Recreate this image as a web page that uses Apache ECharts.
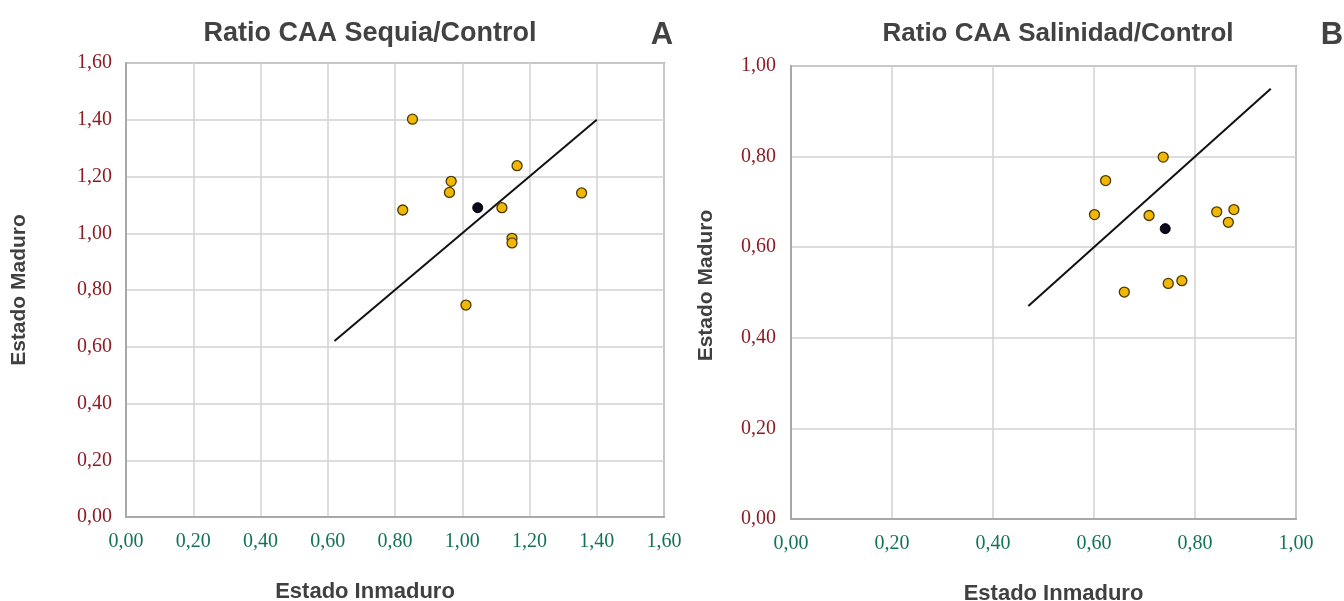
<!DOCTYPE html>
<html>
<head>
<meta charset="utf-8">
<script src="https://cdn.jsdelivr.net/npm/echarts@6/dist/echarts.min.js"></script>
<style>
html,body{margin:0;padding:0;background:#fff;}
#chart{width:1344px;height:601px;}
</style>
</head>
<body>
<div id="chart"></div>
<script>
// Panel A: Ratio CAA Sequia/Control
const sequiaX = [0.852, 1.163, 0.967, 0.962, 1.355, 0.823, 1.118, 1.148, 1.148, 1.011];
const sequiaY = [1.402, 1.238, 1.183, 1.144, 1.142, 1.082, 1.090, 0.982, 0.966, 0.747];
const sequiaMean = [1.046, 1.090];
const sequiaLine = [0.62, 1.40];
// Panel B: Ratio CAA Salinidad/Control
const salinX = [0.737, 0.623, 0.601, 0.709, 0.843, 0.877, 0.866, 0.660, 0.747, 0.774];
const salinY = [0.799, 0.747, 0.672, 0.670, 0.678, 0.683, 0.655, 0.501, 0.520, 0.526];
const salinMean = [0.741, 0.641];
const salinLine = [0.47, 0.95];

const titles = ['Ratio CAA Sequia/Control', 'Ratio CAA Salinidad/Control'];
const panelLetters = ['A', 'B'];
const xName = 'Estado Inmaduro';
const yName = 'Estado Maduro';

const fmt = v => v.toFixed(2).replace('.', ',');
const pairs = (xs, ys) => xs.map((x, i) => [x, ys[i]]);

const serifLabel = (color, margin) => ({
  fontFamily: '"Liberation Serif", "DejaVu Serif", serif',
  fontSize: 20,
  color: color,
  margin: margin,
  formatter: fmt
});
const nameStyle = extra => Object.assign({
  fontFamily: '"Liberation Sans", Arial, sans-serif',
  fontWeight: 'bold',
  fontSize: 21,
  color: '#404040'
}, extra || {});
const titleStyle = size => ({
  fontFamily: '"Liberation Sans", Arial, sans-serif', fontWeight: 'bold', fontSize: size, color: '#424242'
});
const splitLine = { show: true, lineStyle: { color: '#d2d2d2', width: 1.5 } };
const axisLine = { show: true, lineStyle: { color: '#a8a8a8', width: 2 } };

const chart = echarts.init(document.getElementById('chart'));
chart.setOption({
  backgroundColor: '#ffffff',
  animation: false,
  title: [
    { text: titles[0], left: 370, top: 20, padding: 0, textAlign: 'center', textStyle: titleStyle(27) },
    { text: titles[1], left: 1058, top: 21, padding: 0, textAlign: 'center', textStyle: titleStyle(26) },
    { text: panelLetters[0], left: 662, top: 20, padding: 0, textAlign: 'center', textStyle: titleStyle(31) },
    { text: panelLetters[1], left: 1332, top: 20, padding: 0, textAlign: 'center', textStyle: titleStyle(31) }
  ],
  grid: [
    { left: 126, right: 680, top: 63, bottom: 84, outerBoundsMode: 'none', containLabel: false,
      show: true, borderColor: '#a8a8a8', borderWidth: 2 },
    { left: 791, right: 48, top: 66, bottom: 82, outerBoundsMode: 'none', containLabel: false,
      show: true, borderColor: '#a8a8a8', borderWidth: 2 }
  ],
  xAxis: [
    { gridIndex: 0, type: 'value', min: 0, max: 1.6, interval: 0.2,
      axisLine: axisLine, axisTick: { show: false }, splitLine: splitLine,
      axisLabel: serifLabel('#13735a', 15),
      name: xName, nameLocation: 'middle', nameGap: 64,
      nameTextStyle: nameStyle({ fontSize: 22, padding: [0, 60, 0, 0] }) },
    { gridIndex: 1, type: 'value', min: 0, max: 1.0, interval: 0.2,
      axisLine: axisLine, axisTick: { show: false }, splitLine: splitLine,
      axisLabel: serifLabel('#13735a', 15),
      name: xName, nameLocation: 'middle', nameGap: 64,
      nameTextStyle: nameStyle({ fontSize: 22, padding: [0, 0, 0, 20] }) }
  ],
  yAxis: [
    { gridIndex: 0, type: 'value', min: 0, max: 1.6, interval: 0.2,
      axisLine: axisLine, axisTick: { show: false }, splitLine: splitLine,
      axisLabel: serifLabel('#8c1c24', 14),
      name: yName, nameLocation: 'middle', nameGap: 96,
      nameTextStyle: nameStyle() },
    { gridIndex: 1, type: 'value', min: 0, max: 1.0, interval: 0.2,
      axisLine: axisLine, axisTick: { show: false }, splitLine: splitLine,
      axisLabel: serifLabel('#8c1c24', 15),
      name: yName, nameLocation: 'middle', nameGap: 74,
      nameTextStyle: nameStyle({ padding: [0, 0, 0, 14] }) }
  ],
  series: [
    { type: 'line', xAxisIndex: 0, yAxisIndex: 0, data: [[sequiaLine[0], sequiaLine[0]], [sequiaLine[1], sequiaLine[1]]],
      showSymbol: false, symbol: 'none', lineStyle: { color: '#111', width: 2 }, z: 2 },
    { type: 'scatter', xAxisIndex: 0, yAxisIndex: 0, data: pairs(sequiaX, sequiaY), symbolSize: 10,
      itemStyle: { color: '#f2b705', borderColor: '#4a3a00', borderWidth: 1.3, opacity: 1 }, z: 3 },
    { type: 'scatter', xAxisIndex: 0, yAxisIndex: 0, data: [sequiaMean], symbolSize: 10,
      itemStyle: { color: '#0a0a1e', borderColor: '#000', borderWidth: 1, opacity: 1 }, z: 3 },
    { type: 'line', xAxisIndex: 1, yAxisIndex: 1, data: [[salinLine[0], salinLine[0]], [salinLine[1], salinLine[1]]],
      showSymbol: false, symbol: 'none', lineStyle: { color: '#111', width: 2 }, z: 2 },
    { type: 'scatter', xAxisIndex: 1, yAxisIndex: 1, data: pairs(salinX, salinY), symbolSize: 10,
      itemStyle: { color: '#f2b705', borderColor: '#4a3a00', borderWidth: 1.3, opacity: 1 }, z: 3 },
    { type: 'scatter', xAxisIndex: 1, yAxisIndex: 1, data: [salinMean], symbolSize: 10,
      itemStyle: { color: '#0a0a1e', borderColor: '#000', borderWidth: 1, opacity: 1 }, z: 3 }
  ]
});
</script>
</body>
</html>
